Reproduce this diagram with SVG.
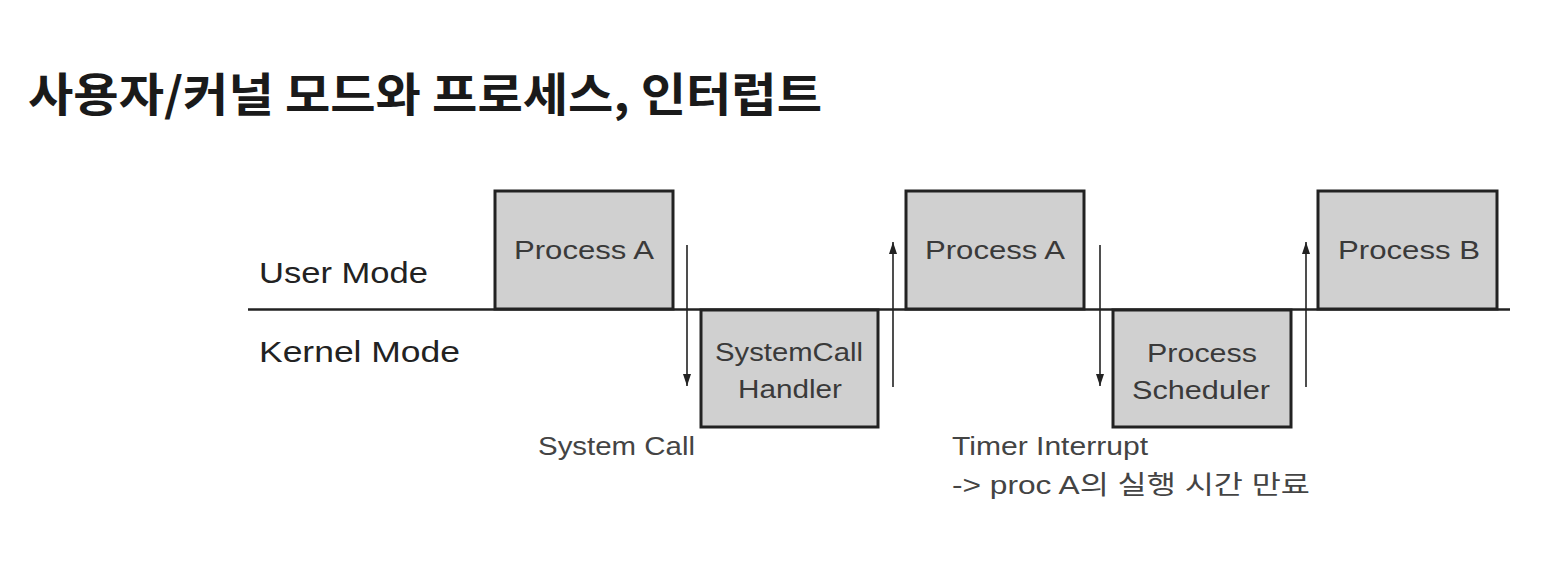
<svg xmlns="http://www.w3.org/2000/svg" width="1549" height="570" viewBox="0 0 1549 570">
<style>
.box{fill:#d0d0d0;stroke:#222;stroke-width:3}
.bt{font-family:"Liberation Sans","Noto Sans CJK KR",sans-serif;font-size:25px;fill:#3a3a3a;text-anchor:middle}
.lbl{font-family:"Liberation Sans","Noto Sans CJK KR",sans-serif;font-size:29px;fill:#222}
.note{font-family:"Liberation Sans","Noto Sans CJK KR",sans-serif;font-size:26px;fill:#444}
.title{font-family:"Noto Sans CJK KR",sans-serif;font-size:46px;font-weight:bold;fill:#1a1a1a}
.arr{stroke:#222;stroke-width:1.6;fill:none}
</style>
<defs>
<marker id="ah" viewBox="0 0 12 8" refX="12" refY="4" markerWidth="12" markerHeight="8" markerUnits="userSpaceOnUse" orient="auto">
<path d="M0,0 L12,4 L0,8 Z" fill="#222"/>
</marker>
</defs>
<rect width="1549" height="570" fill="#fff"/>
<text class="title" x="28" y="111" textLength="794" lengthAdjust="spacingAndGlyphs">사용자/커널 모드와 프로세스, 인터럽트</text>
<text class="lbl" x="259" y="283" textLength="169" lengthAdjust="spacingAndGlyphs">User Mode</text>
<text class="lbl" x="259" y="362" textLength="201" lengthAdjust="spacingAndGlyphs">Kernel Mode</text>
<g id="conn">
<line x1="248" y1="309.5" x2="1510" y2="309.5" stroke="#222" stroke-width="2.5"/>
<line class="arr" x1="687" y1="245" x2="687" y2="386" marker-end="url(#ah)"/>
<line class="arr" x1="893" y1="387" x2="893" y2="242" marker-end="url(#ah)"/>
<line class="arr" x1="1100" y1="245" x2="1100" y2="386" marker-end="url(#ah)"/>
<line class="arr" x1="1306" y1="387" x2="1306" y2="242" marker-end="url(#ah)"/>
</g>
<g id="procA1"><rect class="box" x="495" y="191" width="178" height="118"/><text class="bt" x="584" y="259" textLength="140" lengthAdjust="spacingAndGlyphs">Process A</text></g>
<g id="syscall"><rect class="box" x="701" y="310" width="177" height="117"/><text class="bt" x="789" y="361" textLength="148" lengthAdjust="spacingAndGlyphs">SystemCall</text><text class="bt" x="790" y="398" textLength="104" lengthAdjust="spacingAndGlyphs">Handler</text></g>
<g id="procA2"><rect class="box" x="906" y="191" width="178" height="118"/><text class="bt" x="995" y="259" textLength="140" lengthAdjust="spacingAndGlyphs">Process A</text></g>
<g id="sched"><rect class="box" x="1113" y="310" width="178" height="117"/><text class="bt" x="1202" y="362" textLength="110" lengthAdjust="spacingAndGlyphs">Process</text><text class="bt" x="1201" y="399" textLength="138" lengthAdjust="spacingAndGlyphs">Scheduler</text></g>
<g id="procB"><rect class="box" x="1318" y="191" width="179" height="118"/><text class="bt" x="1409" y="259" textLength="142" lengthAdjust="spacingAndGlyphs">Process B</text></g>
<text class="note" x="538" y="455" textLength="157" lengthAdjust="spacingAndGlyphs">System Call</text>
<text class="note" x="952" y="455" textLength="196" lengthAdjust="spacingAndGlyphs">Timer Interrupt</text>
<text class="note" x="952" y="494" textLength="358" lengthAdjust="spacingAndGlyphs">-&gt; proc A의 실행 시간 만료</text>
</svg>
